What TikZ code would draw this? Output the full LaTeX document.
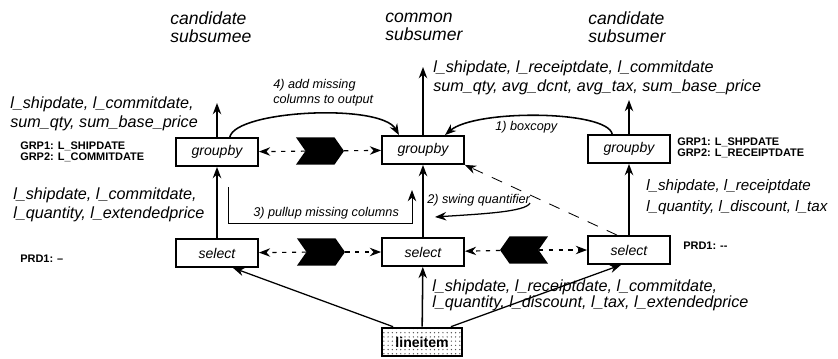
\documentclass[tikz,border=0pt]{standalone}
\usepackage{fontspec}
\setmainfont{Liberation Sans}
\usepackage{tikz}
\usetikzlibrary{shapes,arrows.meta,patterns}

\begin{document}
\begin{tikzpicture}[x=0.025cm,y=-0.025cm,
  op/.style={draw,line width=1.3pt,minimum width=2.05cm,minimum height=0.7cm,inner sep=0pt,font=\fontsize{10}{12}\selectfont\itshape},
  head/.style={anchor=west,align=left,inner sep=0pt,font=\fontsize{12.5}{12.5}\selectfont\itshape},
  lbl/.style={anchor=west,align=left,inner sep=0pt,font=\fontsize{11.5}{13.5}\selectfont\itshape},
  grp/.style={anchor=west,align=left,inner sep=0pt,font=\fontsize{7.8}{7.8}\selectfont\bfseries},
  note/.style={anchor=west,align=left,inner sep=0pt,font=\fontsize{9}{10.5}\selectfont\itshape},
  flow/.style={-{Stealth[length=8pt,width=6pt]},line width=1.1pt},
  chev/.style={signal,fill=black,minimum width=1.2cm,minimum height=0.68cm,inner sep=0pt,signal pointer angle=110},
  chevarr/.style={-{Stealth[length=8pt,width=6pt]},line width=0.8pt,dash pattern=on 3pt off 4pt},
]
  \useasboundingbox (0,0) rectangle (838,358);

  \node[head] (hL) at (170,27) {candidate\\subsumee};
  \node[head] (hM) at (385,27) {common\\subsumer};
  \node[head] (hR) at (588,27) {candidate\\subsumer};

  \node[op] (gL) at (217,152) {groupby};
  \node[op] (gM) at (423,150) {groupby};
  \node[op] (gR) at (629,149) {groupby};
  \node[op] (sL) at (217,253) {select};
  \node[op] (sM) at (423,252) {select};
  \node[op] (sR) at (629,250) {select};
  \node[draw,line width=1.3pt,pattern=dots,pattern color=black!70,minimum width=2.0cm,minimum height=0.72cm,inner sep=0pt,font=\fontsize{10}{12}\selectfont\bfseries] (li) at (422,342) {lineitem};

  \node[chev,signal to=east,signal from=west] (cG) at (320,151) {};
  \node[chev,signal to=east,signal from=west] (cS) at (321,252) {};
  \node[chev,signal to=west,signal from=east] (cR) at (524,250) {};
  \foreach \c/\a/\b in {cG/gL/gM,cS/sL/sM,cR/sM/sR} {\draw[chevarr] (\c) -- (\a); \draw[chevarr] (\c) -- (\b);}

  \coordinate (oL) at (217,103);
  \coordinate (oM) at (423,67);
  \coordinate (oR) at (629,100);
  \draw[flow] (gL) -- (oL);
  \draw[flow] (gM) -- (oM);
  \draw[flow] (gR) -- (oR);
  \draw[flow] (sL) -- (gL);
  \draw[flow] (sM) -- (gM);
  \draw[flow] (sR) -- (gR);
  \draw[flow] (li) -- (sM);
  \draw[flow,line width=0.9pt] ([xshift=0.3cm]li.north west) -- ([xshift=0.4cm]sL.south);
  \draw[flow,line width=0.9pt] ([xshift=-0.3cm]li.north east) -- ([xshift=-0.2cm]sR.south);

  \node[lbl] (outL) at (10,114) {l\_shipdate, l\_commitdate,\\sum\_qty, sum\_base\_price};
  \node[grp] (grpL) at (20,152) {GRP1: L\_SHIPDATE\\GRP2: L\_COMMITDATE};
  \node[lbl] (outM) at (433,78) {l\_shipdate, l\_receiptdate, l\_commitdate\\sum\_qty, avg\_dcnt, avg\_tax, sum\_base\_price};
  \node[grp] (grpR) at (677,148) {GRP1: L\_SHPDATE\\GRP2: L\_RECEIPTDATE};
  \node[lbl] (inL) at (13,205) {l\_shipdate, l\_commitdate,\\l\_quantity, l\_extendedprice};
  \node[grp] (prdL) at (20,259) {PRD1: --};
  \node[lbl,font=\fontsize{10.8}{15}\selectfont\itshape] (inR) at (646,197) {l\_shipdate, l\_receiptdate\\l\_quantity, l\_discount, l\_tax};
  \node[grp] (prdR) at (683,246) {PRD1: -{}-};
  \node[lbl,font=\fontsize{11.5}{11.5}\selectfont\itshape] (inB) at (432,295) {l\_shipdate, l\_receiptdate, l\_commitdate,\\l\_quantity, l\_discount, l\_tax, l\_extendedprice};

  \draw[flow] ([xshift=-0.42cm]gR.north) .. controls +(-5,-24) and +(30,-26) .. ([xshift=0.55cm]gM.north);
  \node[note] (n1) at (495,127) {1) boxcopy};
  \draw[flow] ([xshift=0.32cm]gL.north) .. controls +(6,-27) and +(-18,-32) .. ([xshift=-0.6cm]gM.north);
  \node[note] (n4) at (273,93) {4) add missing\\columns to output};

  \coordinate (p1) at (228,187);
  \coordinate (p2) at (412,190);
  \draw[flow,line width=0.7pt] (p1) -- ++(0,36) -| (p2);
  \node[note] (n3) at (253,213) {3) pullup missing columns};

  \coordinate (q1) at (530,203);
  \coordinate (q2) at (435,217);
  \draw[flow,line width=0.9pt] (q1) .. controls (526,212) and (480,214) .. (q2);
  \node[note] (n2) at (427,200) {2) swing quantifier};

  \draw[-{Stealth[length=8pt,width=6pt]},line width=0.6pt,dash pattern=on 8pt off 7pt] ([xshift=-0.3cm]sR.north) -- (gM.south east);
\end{tikzpicture}
\end{document}
